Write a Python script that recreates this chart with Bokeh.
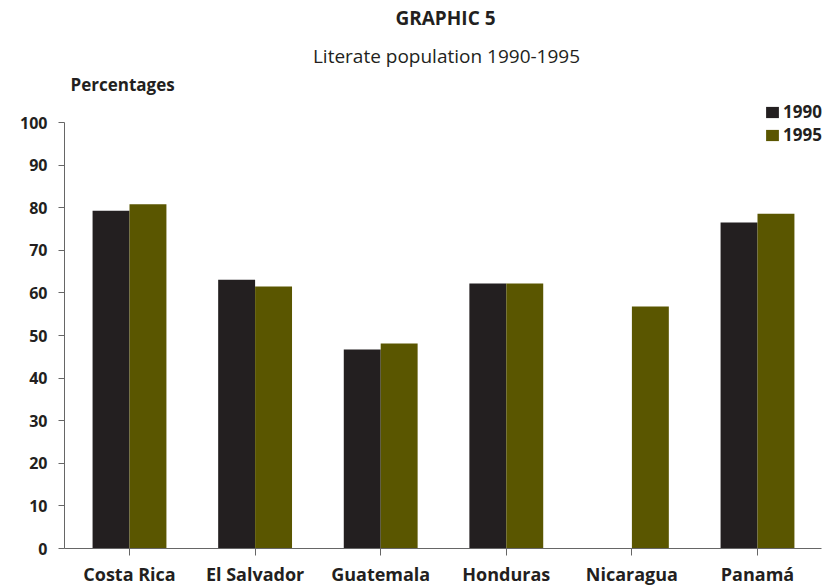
from bokeh.plotting import figure
from bokeh.models import ColumnDataSource, Label, Legend, LegendItem, Range1d, FixedTicker
from bokeh.transform import dodge
from bokeh.embed import file_html
from bokeh.resources import INLINE

countries = ["Costa Rica", "El Salvador", "Guatemala", "Honduras", "Nicaragua", "Panamá"]
y1990 = [79.3, 63.1, 46.7, 62.2, float("nan"), 76.5]
y1995 = [80.8, 61.5, 48.1, 62.2, 56.8, 78.6]
y_ticks = [0, 10, 20, 30, 40, 50, 60, 70, 80, 90, 100]

FONT = "Open Sans"
DARK = "#231f20"
OLIVE = "#5a5600"
AXIS = "#666666"

W, H = 829, 588
frame_left, frame_top, frame_bottom = 64, 0, 548
y0_pix, y100_pix = 548, 122
ppu = (y0_pix - y100_pix) / 100.0
cat_w = 125.6
first_tick_pix = 129

xs = list(range(len(countries)))
x_start = -(first_tick_pix - frame_left) / cat_w
x_end = x_start + (W - frame_left) / cat_w
y_end = 100 + (y100_pix - frame_top) / ppu

p = figure(x_range=Range1d(x_start, x_end), y_range=Range1d(0, y_end),
           width=W, height=H, output_backend="svg", toolbar_location=None,
           min_border_left=frame_left, min_border_right=0,
           min_border_top=frame_top, min_border_bottom=H - frame_bottom)
p.outline_line_color = None
p.grid.visible = False

src = ColumnDataSource(dict(x=xs, country=countries, y1990=y1990, y1995=y1995))
r1 = p.vbar(x=dodge("x", -0.147), top="y1990", width=0.294,
            source=src, fill_color=DARK, line_color=None)
r2 = p.vbar(x=dodge("x", 0.147), top="y1995", width=0.294,
            source=src, fill_color=OLIVE, line_color=None)

# axes
p.yaxis.ticker = FixedTicker(ticks=y_ticks)
p.yaxis.bounds = (0, 100)
p.yaxis.axis_line_color = AXIS
p.yaxis.major_tick_line_color = AXIS
p.yaxis.major_tick_out = 6
p.yaxis.major_tick_in = 0
p.yaxis.minor_tick_line_color = None
p.yaxis.major_label_text_font = FONT
p.yaxis.major_label_text_font_style = "bold"
p.yaxis.major_label_text_font_size = "16px"
p.yaxis.major_label_text_color = DARK
p.yaxis.major_label_standoff = 11

p.xaxis.ticker = FixedTicker(ticks=xs)
p.xaxis.major_label_overrides = {i: c for i, c in zip(xs, countries)}
p.xaxis.bounds = (x_start, (821 - first_tick_pix) / cat_w)
p.xaxis.axis_line_color = AXIS
p.xaxis.major_tick_line_color = AXIS
p.xaxis.major_tick_out = 7
p.xaxis.major_tick_in = 0
p.xaxis.minor_tick_line_color = None
p.xaxis.major_label_text_font = FONT
p.xaxis.major_label_text_font_style = "bold"
p.xaxis.major_label_text_font_size = "18px"
p.xaxis.major_label_text_color = DARK
p.xaxis.major_label_standoff = 6

# texts (positions in data space, converted from page pixels)
def dy(ypix):
    return 100 + (y100_pix - ypix) / ppu

def dx(xpix):
    return x_start + (xpix - frame_left) / cat_w

p.add_layout(Label(x=dx(445), y=dy(17), text="GRAPHIC 5", text_font=FONT,
                   text_font_style="bold", text_font_size="19px", text_color=DARK,
                   text_align="center", text_baseline="middle"))
p.add_layout(Label(x=dx(446), y=dy(55), text="Literate population 1990-1995", text_font=FONT,
                   text_font_size="19px", text_color=DARK,
                   text_align="center", text_baseline="middle"))
p.add_layout(Label(x=dx(70), y=dy(84), text="Percentages", text_font=FONT,
                   text_font_style="bold", text_font_size="17px", text_color=DARK,
                   text_align="left", text_baseline="middle"))

legend = Legend(items=[LegendItem(label="1990", renderers=[r1]),
                       LegendItem(label="1995", renderers=[r2])],
                location=(764 - frame_left, y0_pix - 146),
                label_text_font=FONT, label_text_font_style="bold",
                label_text_font_size="17px", label_text_color=DARK,
                glyph_width=16, glyph_height=14, label_standoff=3,
                label_height=18, spacing=-2, padding=0, margin=0,
                background_fill_alpha=0, border_line_color=None)
p.add_layout(legend)

open("out.html", "w").write(file_html(p, INLINE))
